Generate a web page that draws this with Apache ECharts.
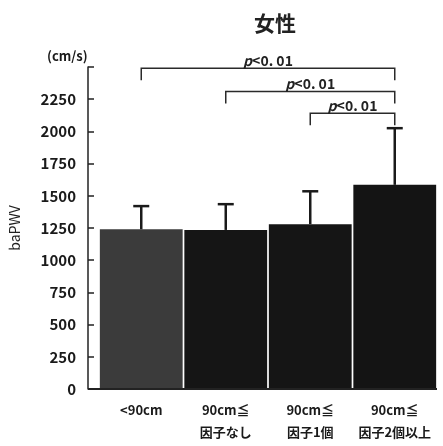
<!DOCTYPE html>
<html>
<head>
<meta charset="utf-8">
<script src="https://cdn.jsdelivr.net/npm/echarts@6/dist/echarts.min.js"></script>
<style>html,body{margin:0;padding:0;background:#fff;}#c{width:443px;height:446px;}</style>
</head>
<body>
<div id="c"></div>
<script>
const categories = ['<90cm', '90cm≦\n因子なし', '90cm≦\n因子1個', '90cm≦\n因子2個以上'];
const means = [1240, 1235, 1280, 1585];
const upperSD = [1420, 1435, 1535, 2025];
const yTicks = [0, 250, 500, 750, 1000, 1250, 1500, 1750, 2000, 2250];
const sigPairs = [[0, 3], [1, 3], [2, 3]];
const sigLevels = [2490, 2310, 2140];
const sigLabels = ['p<0. 01', 'p<0. 01', 'p<0. 01'];
const barColors = ['#3b3b3b', '#151515', '#151515', '#141414'];

const FONT = '"Noto Sans CJK JP", "Liberation Sans", sans-serif';
const chart = echarts.init(document.getElementById('c'));
const gridLeft = 99, gridRight = 6, gridTop = 67, gridBottom = 57, yOffset = 11;

chart.setOption({
  animation: false,
  backgroundColor: '#fff',
  title: {
    text: '女性', left: 270, top: 8, textAlign: 'center',
    textStyle: { fontFamily: FONT, fontSize: 21, fontWeight: 'bold', color: '#222' }
  },
  grid: { left: gridLeft, right: gridRight, top: gridTop, bottom: gridBottom },
  xAxis: {
    type: 'category', data: categories,
    axisLine: { show: false },
    axisTick: { show: false },
    axisLabel: { fontFamily: FONT, fontSize: 13, fontWeight: 'bold', color: '#1a1a1a', margin: 10, lineHeight: 22, interval: 0 }
  },
  yAxis: {
    type: 'value', min: 0, max: 2500, interval: 250, offset: yOffset,
    name: 'baPWV', nameLocation: 'middle', nameGap: 66, nameRotate: 90,
    nameTextStyle: { fontFamily: FONT, fontSize: 14, color: '#222' },
    axisLine: { show: true, lineStyle: { color: '#222', width: 1.5 } },
    axisTick: { show: true, inside: true, length: 6, lineStyle: { color: '#222', width: 1.5 } },
    splitLine: { show: false },
    axisLabel: {
      fontFamily: FONT, fontSize: 15, fontWeight: 'bold', color: '#1a1a1a', margin: 12,
      formatter: v => (yTicks.indexOf(v) >= 0 ? String(v) : '')
    }
  },
  series: [
    {
      type: 'bar', barCategoryGap: '2%',
      data: means.map((v, i) => ({ value: v, itemStyle: { color: barColors[i] } })),
      z: 2
    },
    {
      type: 'custom', clip: false, z: 3,
      data: means.map((m, i) => [i, m, upperSD[i]]),
      renderItem: (params, api) => {
        const base = api.coord([api.value(0), api.value(1)]);
        const top = api.coord([api.value(0), api.value(2)]);
        const hw = 8;
        return {
          type: 'group', children: [
            { type: 'line', shape: { x1: top[0], y1: base[1], x2: top[0], y2: top[1] }, style: { stroke: '#1a1a1a', lineWidth: 2.5 } },
            { type: 'line', shape: { x1: top[0] - hw, y1: top[1], x2: top[0] + hw, y2: top[1] }, style: { stroke: '#1a1a1a', lineWidth: 2.5 } }
          ]
        };
      }
    },
    {
      type: 'custom', clip: false, z: 4,
      data: sigPairs.map((p, i) => [p[0], p[1], sigLevels[i], i]),
      renderItem: (params, api) => {
        const a = api.coord([api.value(0), api.value(2)]);
        const b = api.coord([api.value(1), api.value(2)]);
        const lbl = sigLabels[api.value(3)];
        const tick = 12;
        return {
          type: 'group', children: [
            { type: 'polyline', shape: { points: [[a[0], a[1] + tick], [a[0], a[1]], [b[0], b[1]], [b[0], b[1] + tick]] }, style: { stroke: '#2a2a2a', lineWidth: 1.5, fill: null } },
            { type: 'text', x: (a[0] + b[0]) / 2, y: a[1] - 1, style: {
              text: '{i|' + lbl.charAt(0) + '}{n|' + lbl.slice(1) + '}', align: 'center', verticalAlign: 'bottom',
              rich: {
                i: { fontFamily: FONT, fontStyle: 'italic', fontSize: 14, fill: '#222', fontWeight: 'bold' },
                n: { fontFamily: FONT, fontSize: 14, fill: '#222', fontWeight: 'bold' }
              }
            } }
          ]
        };
      }
    }
  ]
});

// x-axis base line extending from the (offset) y-axis to the right edge of the grid
const p0 = chart.convertToPixel({ gridIndex: 0 }, [0, 0]);
const rect = chart.getModel().getComponent('grid', 0).coordinateSystem.getRect();
chart.setOption({
  graphic: [
    { type: 'text', left: 47, top: 50, style: { text: '(cm/s)', fontFamily: FONT, fontSize: 13, fontWeight: 'bold', fill: '#1a1a1a' } },
    { type: 'line', z: 5, shape: { x1: rect.x - yOffset, y1: p0[1], x2: rect.x + rect.width, y2: p0[1] }, style: { stroke: '#222', lineWidth: 2 } }
  ]
});
</script>
</body>
</html>
